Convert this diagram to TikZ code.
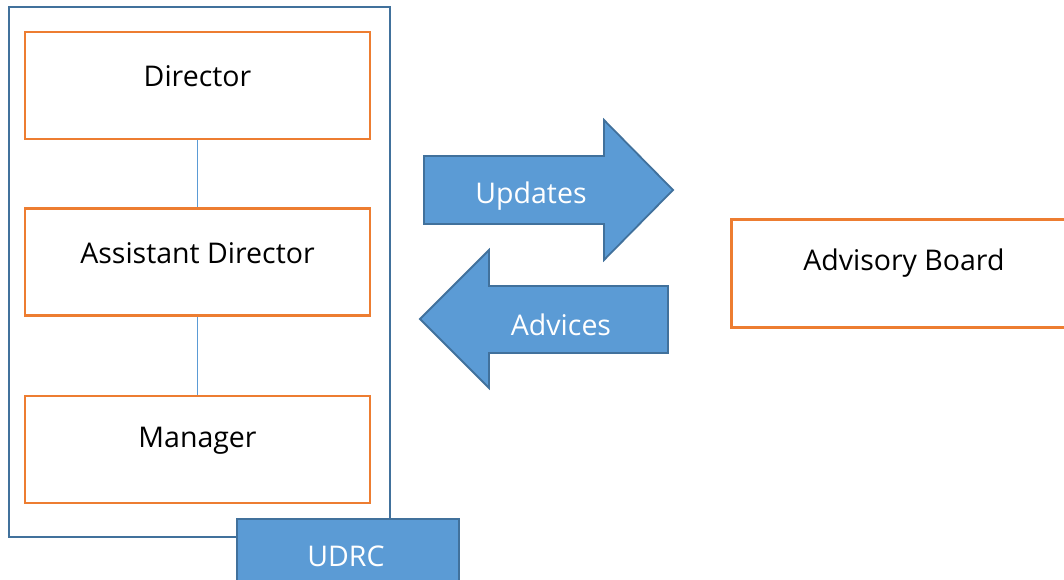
\documentclass[tikz,border=0pt]{standalone}
\usepackage{fontspec}
\setmainfont{Open Sans}
\definecolor{obrd}{HTML}{ED7D31}
\definecolor{bfill}{HTML}{5B9BD5}
\definecolor{bline}{HTML}{41719C}
\begin{document}
\begin{tikzpicture}[x=1pt,y=-1pt,
  font=\fontsize{28.5}{33}\selectfont,
  role/.style={draw=obrd,line width=2.8pt,fill=white,minimum width=345pt,minimum height=107pt,inner sep=0pt},
  lbl/.style={yshift=9pt,text=black},
  link/.style={draw=bfill,line width=1.4pt},
  bluearrow/.style={fill=bfill,draw=bline,line width=1.8pt,line join=miter},
  wtxt/.style={text=white,inner sep=0pt}]
\useasboundingbox (0,0) rectangle (1064,580);
% outer frame
\draw[bline,line width=2.8pt] (9,7) rectangle (390,537);
% role boxes
\node[role,label={[lbl]center:Director}] (dir) at (197.5,85.5) {};
\node[role,label={[lbl]center:Assistant Director}] (adir) at (197.5,262) {};
\node[role,label={[lbl]center:Manager}] (mgr) at (197.5,449.5) {};
\draw[link] (dir.south) -- (adir.north);
\draw[link] (adir.south) -- (mgr.north);
% UDRC tab
\node[fill=bfill,draw=bline,line width=1.8pt,minimum width=222pt,minimum height=64pt,inner sep=0pt,anchor=north west] (udrc) at (236,518) {};
\node[wtxt] (udrct) at (346,556) {UDRC};
% Updates arrow
\draw[bluearrow] (424,156) -- (604,156) -- (604,120) -- (673,190) -- (604,260) -- (604,224) -- (424,224) -- cycle;
\node[wtxt] (upd) at (531,196) {Updates};
% Advices arrow
\draw[bluearrow] (668,286) -- (489,286) -- (489,250) -- (420,319) -- (489,388) -- (489,353) -- (668,353) -- cycle;
\node[wtxt] (adv) at (561,325) {Advices};
% Advisory board
\node[draw=obrd,line width=2.8pt,fill=white,minimum width=345pt,minimum height=108pt,inner sep=0pt,anchor=north west,label={[lbl,yshift=1pt]center:Advisory Board}] (ab) at (730,218) {};
\end{tikzpicture}
\end{document}
